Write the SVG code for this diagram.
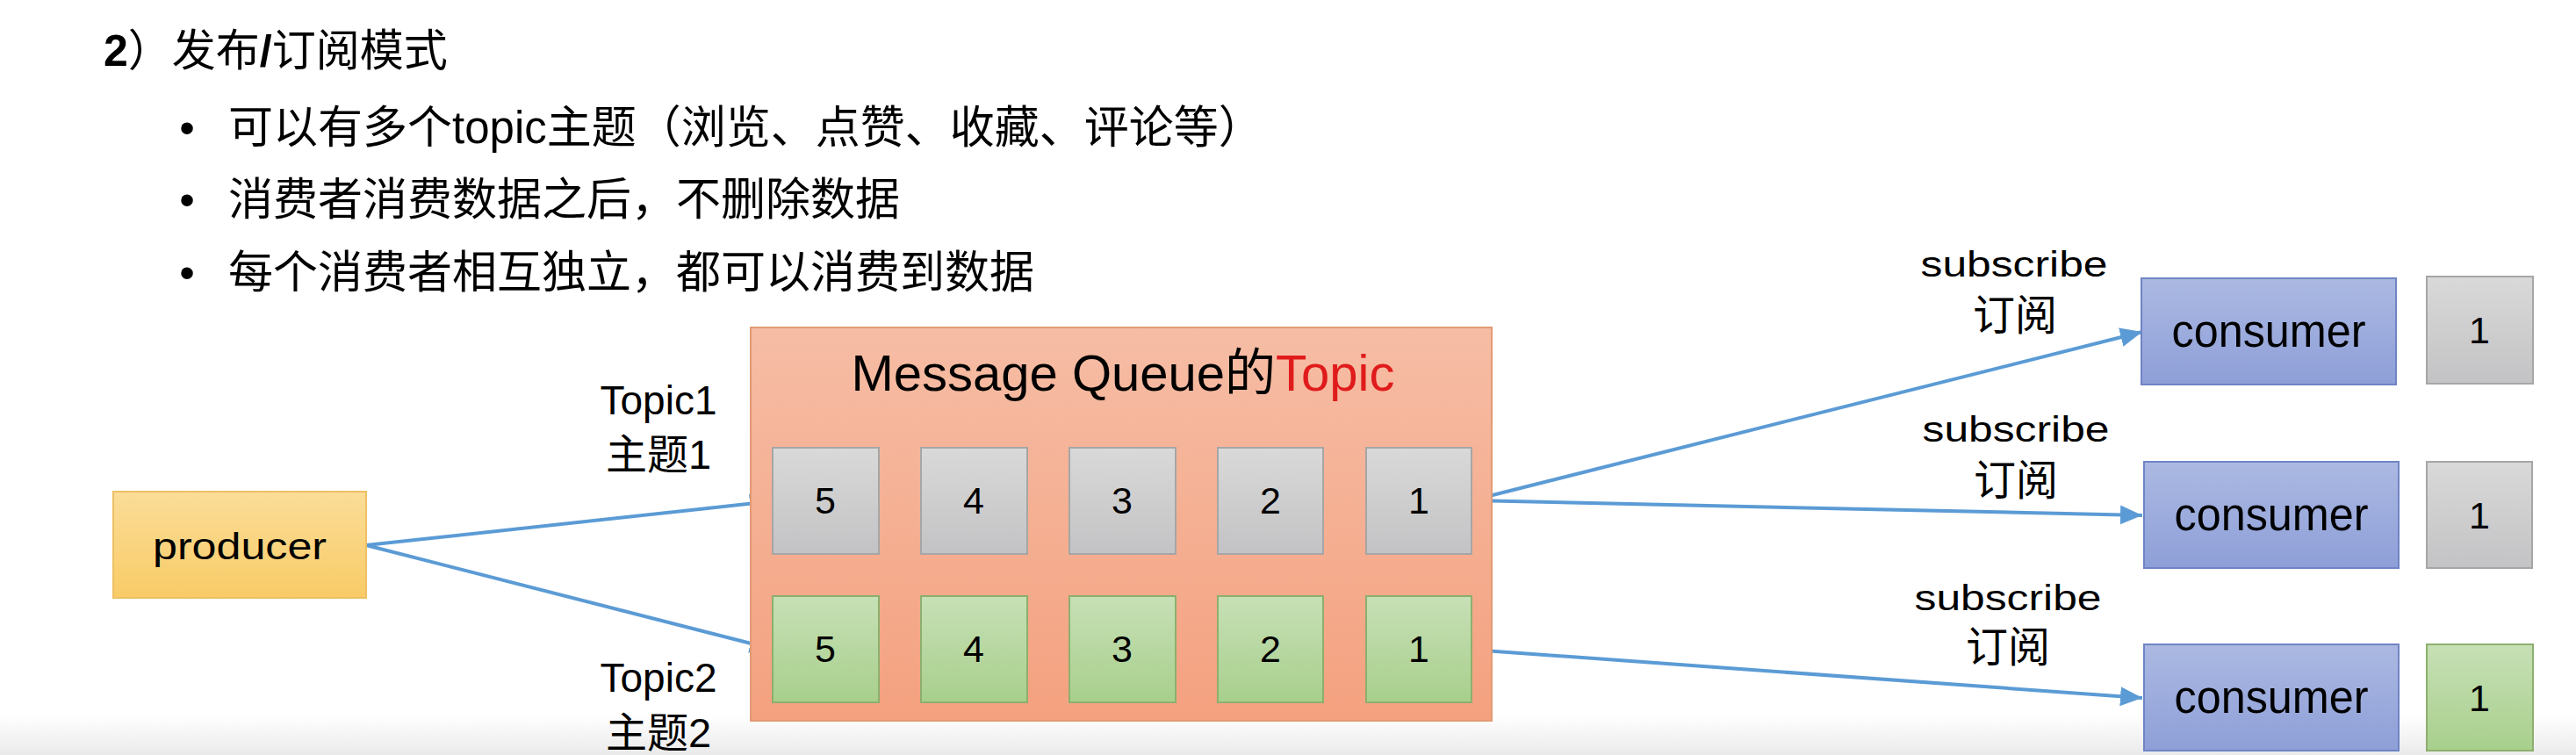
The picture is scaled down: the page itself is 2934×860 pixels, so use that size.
<svg xmlns="http://www.w3.org/2000/svg" width="2934" height="860" viewBox="0 0 2934 860">
<style>
.t{font-family:"Liberation Sans","Noto Sans CJK SC",sans-serif;fill:#000}
.cj{font-family:"Noto Sans CJK SC","Liberation Sans",sans-serif;fill:#000}
.mid{text-anchor:middle}
.edge{stroke:#5B9BD5;stroke-width:4;fill:none;marker-end:url(#ah)}
.grey{fill:url(#gGrey);stroke:#A6A6A6;stroke-width:2}
.green{fill:url(#gGreen);stroke:#8DAF6E;stroke-width:2}
.cons{fill:url(#gCons);stroke:#6F84C4;stroke-width:2}
.num{font-size:43px}
.lbl{font-size:46px}
</style>
<defs>
<linearGradient id="gBg" x1="0" y1="0" x2="0" y2="1"><stop offset="0" stop-color="#FFFFFF"/><stop offset="1" stop-color="#EAEAEA"/></linearGradient>
<linearGradient id="gGrey" x1="0" y1="0" x2="0" y2="1"><stop offset="0" stop-color="#D9D9D9"/><stop offset="1" stop-color="#C3C3C5"/></linearGradient>
<linearGradient id="gGreen" x1="0" y1="0" x2="0" y2="1"><stop offset="0" stop-color="#C7E0B6"/><stop offset="1" stop-color="#A8CF8C"/></linearGradient>
<linearGradient id="gCons" x1="0" y1="0" x2="0" y2="1"><stop offset="0" stop-color="#ABB9E2"/><stop offset="1" stop-color="#8E9FD8"/></linearGradient>
<linearGradient id="gProd" x1="0" y1="0" x2="0" y2="1"><stop offset="0" stop-color="#FBDD98"/><stop offset="1" stop-color="#F8CB66"/></linearGradient>
<linearGradient id="gMQ" x1="0" y1="0" x2="0" y2="1"><stop offset="0" stop-color="#F6BDA5"/><stop offset="1" stop-color="#F4A17F"/></linearGradient>
<marker id="ah" markerUnits="userSpaceOnUse" markerWidth="26" markerHeight="24" refX="25" refY="11" orient="auto"><path d="M0,0 L25,11 L0,22 z" fill="#5B9BD5"/></marker>
</defs>
<rect x="0" y="0" width="2934" height="860" fill="#FFFFFF"/>
<rect x="0" y="815" width="2934" height="45" fill="url(#gBg)"/>

<g id="heading">
<text class="t" x="118" y="75" font-size="50"><tspan font-weight="bold">2</tspan>）发布<tspan font-weight="bold">/</tspan>订阅模式</text>
<text class="t mid" x="213" y="163" font-size="50">•</text>
<text class="t" x="260" y="163" font-size="51">可以有多个topic主题（浏览、点赞、收藏、评论等）</text>
<text class="t mid" x="213" y="245" font-size="50">•</text>
<text class="t" x="260" y="245" font-size="51">消费者消费数据之后，不删除数据</text>
<text class="t mid" x="213" y="328" font-size="50">•</text>
<text class="t" x="260" y="328" font-size="51">每个消费者相互独立，都可以消费到数据</text>
</g>

<g id="connectors">
<line class="edge" x1="417" y1="621" x2="879" y2="571"/>
<line class="edge" x1="417" y1="621" x2="879" y2="739"/>
<line class="edge" x1="1676" y1="570" x2="2440" y2="378"/>
<line class="edge" x1="1676" y1="570" x2="2440" y2="587"/>
<line class="edge" x1="1676" y1="740" x2="2440" y2="795"/>
</g>

<g id="producer">
<rect x="129" y="560" width="288" height="121" fill="url(#gProd)" stroke="#EDC064" stroke-width="2"/>
<text class="t mid" x="273" y="637" font-size="43" textLength="198" lengthAdjust="spacingAndGlyphs">producer</text>
</g>

<g id="label-topic1">
<text class="t mid lbl" x="750" y="472">Topic1</text>
<text class="t mid" x="750" y="534" font-size="47">主题1</text>
</g>
<g id="label-topic2">
<text class="t mid lbl" x="750" y="788">Topic2</text>
<text class="t mid" x="750" y="851" font-size="47">主题2</text>
</g>

<g id="message-queue">
<rect x="855" y="373" width="844" height="448" fill="url(#gMQ)" stroke="#E29A74" stroke-width="2"/>
<text class="t mid" x="1279" y="445" font-size="58">Message Queue的<tspan fill="#E01B1B">Topic</tspan></text>
</g>

<g id="topic1-cells">
<g id="t1-5"><rect class="grey" x="880" y="510" width="121" height="121"/><text class="t mid num" x="940" y="585">5</text></g>
<g id="t1-4"><rect class="grey" x="1049" y="510" width="121" height="121"/><text class="t mid num" x="1109" y="585">4</text></g>
<g id="t1-3"><rect class="grey" x="1218" y="510" width="121" height="121"/><text class="t mid num" x="1278" y="585">3</text></g>
<g id="t1-2"><rect class="grey" x="1387" y="510" width="120" height="121"/><text class="t mid num" x="1447" y="585">2</text></g>
<g id="t1-1"><rect class="grey" x="1556" y="510" width="120" height="121"/><text class="t mid num" x="1616" y="585">1</text></g>
</g>
<g id="topic2-cells">
<g id="t2-5"><rect class="green" x="880" y="679" width="121" height="121"/><text class="t mid num" x="940" y="754">5</text></g>
<g id="t2-4"><rect class="green" x="1049" y="679" width="121" height="121"/><text class="t mid num" x="1109" y="754">4</text></g>
<g id="t2-3"><rect class="green" x="1218" y="679" width="121" height="121"/><text class="t mid num" x="1278" y="754">3</text></g>
<g id="t2-2"><rect class="green" x="1387" y="679" width="120" height="121"/><text class="t mid num" x="1447" y="754">2</text></g>
<g id="t2-1"><rect class="green" x="1556" y="679" width="120" height="121"/><text class="t mid num" x="1616" y="754">1</text></g>
</g>

<g id="label-sub1">
<text class="t mid" x="2294" y="315" font-size="40" textLength="213" lengthAdjust="spacingAndGlyphs">subscribe</text>
<text class="t mid" x="2295" y="376" font-size="48">订阅</text>
</g>
<g id="label-sub2">
<text class="t mid" x="2296" y="503" font-size="40" textLength="213" lengthAdjust="spacingAndGlyphs">subscribe</text>
<text class="t mid" x="2296" y="564" font-size="48">订阅</text>
</g>
<g id="label-sub3">
<text class="t mid" x="2287" y="695" font-size="40" textLength="213" lengthAdjust="spacingAndGlyphs">subscribe</text>
<text class="t mid" x="2287" y="754" font-size="48">订阅</text>
</g>

<g id="consumer1">
<rect class="cons" x="2439" y="317" width="290" height="121"/>
<text class="t mid" x="2584" y="395" font-size="51" textLength="221" lengthAdjust="spacingAndGlyphs">consumer</text>
</g>
<g id="consumer2">
<rect class="cons" x="2442" y="526" width="290" height="121"/>
<text class="t mid" x="2587" y="604" font-size="51" textLength="221" lengthAdjust="spacingAndGlyphs">consumer</text>
</g>
<g id="consumer3">
<rect class="cons" x="2442" y="734" width="290" height="121"/>
<text class="t mid" x="2587" y="812" font-size="51" textLength="221" lengthAdjust="spacingAndGlyphs">consumer</text>
</g>

<g id="received1"><rect class="grey" x="2764" y="315" width="121" height="122"/><text class="t mid num" x="2824" y="391">1</text></g>
<g id="received2"><rect class="grey" x="2764" y="526" width="120" height="121"/><text class="t mid num" x="2824" y="602">1</text></g>
<g id="received3"><rect class="green" x="2764" y="734" width="121" height="121"/><text class="t mid num" x="2824" y="810">1</text></g>
</svg>
